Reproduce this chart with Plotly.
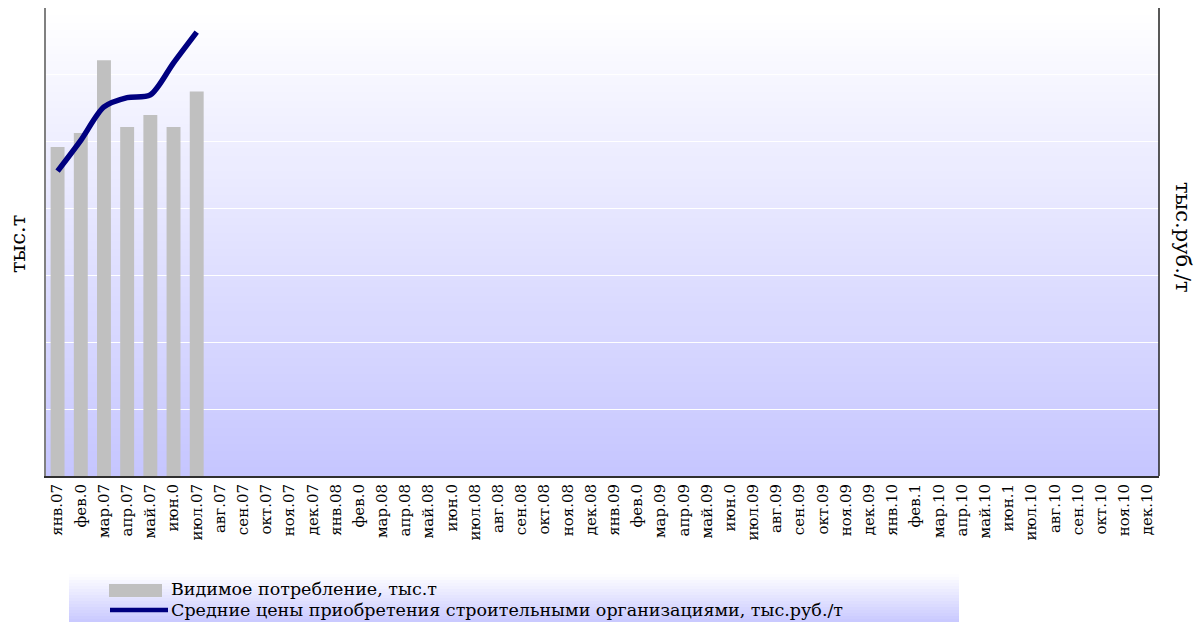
import plotly.graph_objects as go

# ---- data ----
months = ["янв.07","фев.07","мар.07","апр.07","май.07","июн.07","июл.07","авг.07","сен.07","окт.07","ноя.07","дек.07",
          "янв.08","фев.08","мар.08","апр.08","май.08","июн.08","июл.08","авг.08","сен.08","окт.08","ноя.08","дек.08",
          "янв.09","фев.09","мар.09","апр.09","май.09","июн.09","июл.09","авг.09","сен.09","окт.09","ноя.09","дек.09",
          "янв.10","фев.10","мар.10","апр.10","май.10","июн.10","июл.10","авг.10","сен.10","окт.10","ноя.10","дек.10"]
tick_labels = ["янв.07","фев.0","мар.07","апр.07","май.07","июн.0","июл.07","авг.07","сен.07","окт.07","ноя.07","дек.07",
               "янв.08","фев.0","мар.08","апр.08","май.08","июн.0","июл.08","авг.08","сен.08","окт.08","ноя.08","дек.08",
               "янв.09","фев.0","мар.09","апр.09","май.09","июн.0","июл.09","авг.09","сен.09","окт.09","ноя.09","дек.09",
               "янв.10","фев.1","мар.10","апр.10","май.10","июн.1","июл.10","авг.10","сен.10","окт.10","ноя.10","дек.10"]
data_months = months[:7]
consumption = [492, 513, 622, 522, 540, 522, 575]          # тыс.т
price = [22.8, 25.1, 27.6, 28.3, 28.5, 30.9, 33.2]         # тыс.руб./т
name_bar = "Видимое потребление, тыс.т"
name_line = "Средние цены приобретения строительными организациями, тыс.руб./т"

FONT = "DejaVu Serif"
W, H = 1202, 622
L, R, T, B = 46, 43, 8, 146
PW, PH = W - L - R, H - T - B

def px_x(x):
    return (x - L) / PW

def px_y(y):
    return (H - B - y) / PH

def lerp(c0, c1, t):
    return "rgb(%d,%d,%d)" % tuple(round(a + (b - a) * t) for a, b in zip(c0, c1))

fig = go.Figure()
fig.add_trace(go.Bar(x=data_months, y=consumption, name=name_bar, marker_color="#c0c0c0",
                     marker_line_width=0, width=0.6, showlegend=False))
fig.add_trace(go.Scatter(x=data_months, y=price, name=name_line, mode="lines", yaxis="y2",
                         line=dict(color="#000080", width=5.5, shape="spline", smoothing=0.8),
                         showlegend=False))

shapes = []
top_c, bot_c = (255, 255, 255), (198, 198, 255)
N = 60
for i in range(N):
    y0 = 1 - (i + 1) / N
    y1 = 1 - i / N
    shapes.append(dict(type="rect", xref="paper", yref="paper", x0=0, x1=1, y0=y0, y1=y1 + 0.002,
                       fillcolor=lerp(top_c, bot_c, (i + 0.5) / N), line_width=0, layer="below"))
# legend background gradient
ly_top, ly_bot = 574, 622
lx0, lx1 = px_x(69), px_x(959)
M = 16
for i in range(M):
    ya = ly_top + (ly_bot - ly_top) * i / M
    yb = ly_top + (ly_bot - ly_top) * (i + 1) / M
    shapes.append(dict(type="rect", xref="paper", yref="paper", x0=lx0, x1=lx1,
                       y0=px_y(yb) - 0.002, y1=px_y(ya),
                       fillcolor=lerp(top_c, (200, 200, 255), (i + 0.5) / M), line_width=0, layer="below"))
# legend symbols
shapes.append(dict(type="rect", xref="paper", yref="paper", x0=px_x(109), x1=px_x(162),
                   y0=px_y(597), y1=px_y(584), fillcolor="#c0c0c0", line_width=0))
shapes.append(dict(type="line", xref="paper", yref="paper", x0=px_x(110), x1=px_x(168),
                   y0=px_y(610), y1=px_y(610), line=dict(color="#000080", width=4.5)))
# right axis line
shapes.append(dict(type="line", xref="paper", yref="paper", x0=1, x1=1, y0=0, y1=1,
                   line=dict(color="#202020", width=1.5)))

annotations = [
    dict(text=name_bar, xref="paper", yref="paper", x=px_x(169), y=px_y(589), xanchor="left",
         yanchor="middle", showarrow=False,
         font=dict(family=FONT, size=17.5, color="#000")),
    dict(text=name_line, xref="paper", yref="paper", x=px_x(169), y=px_y(610), xanchor="left",
         yanchor="middle", showarrow=False,
         font=dict(family=FONT, size=17.5, color="#000")),
    dict(text="тыс.руб./т", xref="paper", yref="paper", x=px_x(1183), y=px_y(237), xanchor="center",
         yanchor="middle", showarrow=False, textangle=90, font=dict(family=FONT, size=21, color="#000")),
    dict(text="тыс.т", xref="paper", yref="paper", x=px_x(18), y=px_y(244), xanchor="center",
         yanchor="middle", showarrow=False, textangle=-90, font=dict(family=FONT, size=21, color="#000")),
]

fig.update_layout(
    width=W, height=H,
    margin=dict(l=L, r=R, t=T, b=B, autoexpand=False),
    paper_bgcolor="white", plot_bgcolor="rgba(0,0,0,0)",
    font=dict(family=FONT, size=15, color="#000"),
    bargap=0.4,
    shapes=shapes, annotations=annotations,
    xaxis=dict(type="category", categoryorder="array", categoryarray=months,
               tickvals=months, ticktext=tick_labels, tickangle=-90,
               range=[-0.5, len(months) - 0.5],
               showline=True, linecolor="#303030", linewidth=2, ticks="", showgrid=False,
               tickfont=dict(family=FONT, size=15, color="#000")),
    yaxis=dict(range=[0, 700], dtick=100, showgrid=True, gridcolor="white", gridwidth=1,
               showticklabels=False, showline=True, linecolor="#808080", linewidth=2,
               zeroline=False, ticks=""),
    yaxis2=dict(range=[0, 35], overlaying="y", side="right", showgrid=False,
                showticklabels=False, showline=False, zeroline=False, ticks=""),
)

fig.write_html("out.html", config={"displayModeBar": False},
               post_script="document.body.style.margin='0';document.body.style.overflow='hidden';")
